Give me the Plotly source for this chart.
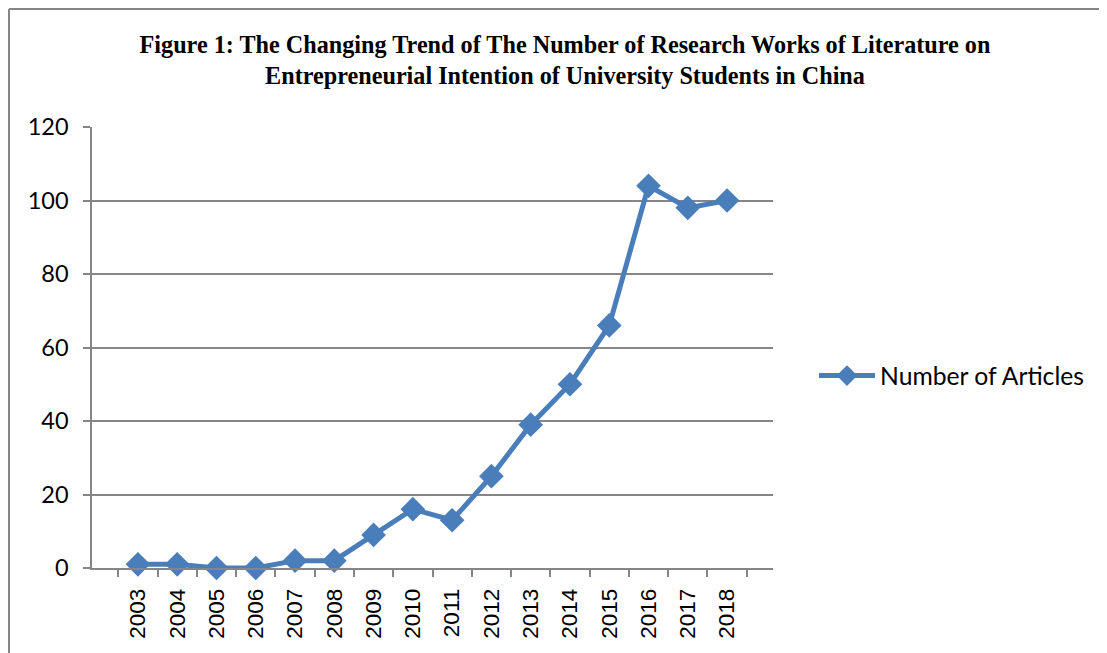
import plotly.graph_objects as go

years = ["2003", "2004", "2005", "2006", "2007", "2008", "2009", "2010",
         "2011", "2012", "2013", "2014", "2015", "2016", "2017", "2018"]
articles = [1, 1, 0, 0, 2, 2, 9, 16, 13, 25, 39, 50, 66, 104, 98, 100]
series_name = "Number of Articles"
title_text = ("<b>Figure 1: The Changing Trend of The Number of Research Works of Literature on<br>"
              "Entrepreneurial Intention of University Students in China</b>")

W, H = 1107, 653
OFF = 8  # page body margin
L, R, T, B = 92, 773, 127, 568
pw, ph = R - L, B - T

def px(x):
    return (x - L) / pw

def py(y):
    return (B - y) / ph

fig = go.Figure()
fig.add_trace(go.Scatter(
    x=years, y=articles, mode="lines+markers", name=series_name,
    line=dict(color="#4a7ebb", width=5),
    marker=dict(symbol="diamond", size=19, color="#4a7ebb"),
    cliponaxis=False,
))

fig.update_layout(
    width=W - OFF, height=H - OFF,
    margin=dict(l=L - OFF, r=W - R, t=T - OFF, b=H - B, pad=0),
    paper_bgcolor="white", plot_bgcolor="white",
    title=dict(text=title_text, x=px(565), xanchor="center", xref="paper",
               y=1 - (53 - OFF) / (H - OFF), yanchor="middle",
               font=dict(family="Liberation Serif", size=24.2, color="black")),
    showlegend=True,
    legend=dict(x=px(814), y=py(376), xanchor="left", yanchor="middle",
                font=dict(family="Lato", size=24.7, color="black"),
                bgcolor="rgba(0,0,0,0)", itemwidth=56),
    xaxis=dict(type="category", showline=True, linecolor="#868686", linewidth=1.5,
               ticks="outside", tickson="boundaries", ticklen=7, tickcolor="#868686",
               tickwidth=1.5, tickangle=-90, showgrid=False,
               tickfont=dict(family="Liberation Sans", size=22.5, color="black"),
               ticklabelstandoff=10),
    yaxis=dict(range=[0, 120], dtick=20, showline=True, linecolor="#868686", linewidth=1.5,
               ticks="outside", ticklen=7, tickcolor="#868686", tickwidth=1.5,
               showgrid=True, gridcolor="#868686", gridwidth=1.5, zeroline=False,
               tickfont=dict(family="Lato", size=23.5, color="black"),
               ticklabelstandoff=10),
    shapes=[
        dict(type="line", xref="paper", yref="paper", x0=px(9), x1=px(W + 5),
             y0=py(9), y1=py(9), line=dict(color="#868686", width=2)),
        dict(type="line", xref="paper", yref="paper", x0=px(9), x1=px(9),
             y0=py(9), y1=py(H + 5), line=dict(color="#868686", width=2)),
    ],
)

fig.write_html("out.html")
